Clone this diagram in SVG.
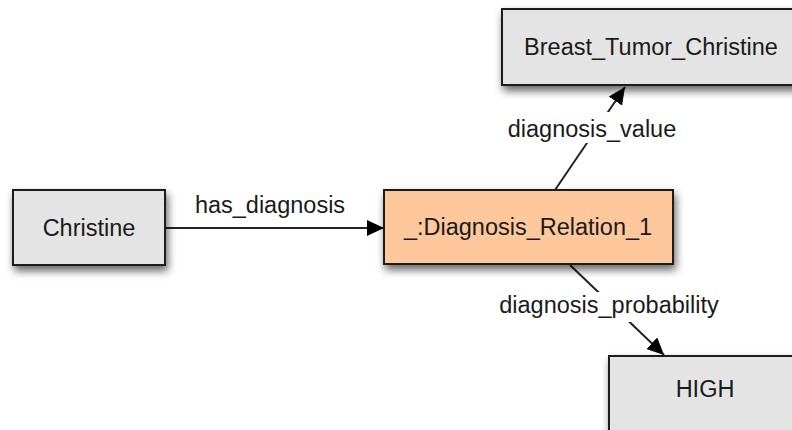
<svg xmlns="http://www.w3.org/2000/svg" width="792" height="430" viewBox="0 0 792 430">
<defs>
<style>
.box{stroke:#1e1e1e;stroke-width:2;filter:url(#sh)}
.gray{fill:#e4e4e4}
.orange{fill:#ffc89c}
text{font-family:"Liberation Sans",Arial,sans-serif;font-size:23.5px;fill:#1a1a1a;text-anchor:middle}
.edge{stroke:#222;stroke-width:2;fill:none;marker-end:url(#arr)}
.lblbg{fill:#fff}
</style>
<filter id="sh" x="-20%" y="-30%" width="140%" height="170%">
<feDropShadow dx="2" dy="5" stdDeviation="4" flood-color="#000" flood-opacity="0.6"/>
</filter>
<marker id="arr" markerUnits="userSpaceOnUse" markerWidth="18" markerHeight="16" refX="17" refY="8" orient="auto">
<path d="M0,0 L17,8 L0,16 z" fill="#000"/>
</marker>
</defs>
<rect width="792" height="430" fill="#fff"/>
<g id="connectors">
<line class="edge" x1="165" y1="228" x2="384" y2="228"/>
<text x="270" y="213">has_diagnosis</text>
<line class="edge" x1="555" y1="190" x2="625" y2="87"/>
<rect class="lblbg" x="502" y="112" width="182" height="31"/>
<text x="592" y="137">diagnosis_value</text>
<line class="edge" x1="570" y1="265" x2="664" y2="355"/>
<rect class="lblbg" x="492" y="292" width="236" height="30"/>
<text x="609" y="313">diagnosis_probability</text>
</g>
<g id="christine">
<rect class="box gray" x="13" y="190" width="152" height="75"/>
<text x="89" y="236">Christine</text>
</g>
<g id="diagnosis_relation">
<rect class="box orange" x="384" y="190" width="289" height="74"/>
<text x="528" y="235">_:Diagnosis_Relation_1</text>
</g>
<g id="breast_tumor">
<rect class="box gray" x="502" y="9" width="298" height="76"/>
<text x="651" y="55">Breast_Tumor_Christine</text>
</g>
<g id="high">
<rect class="box gray" x="609" y="356" width="194" height="80"/>
<text x="705" y="397">HIGH</text>
</g>
</svg>
